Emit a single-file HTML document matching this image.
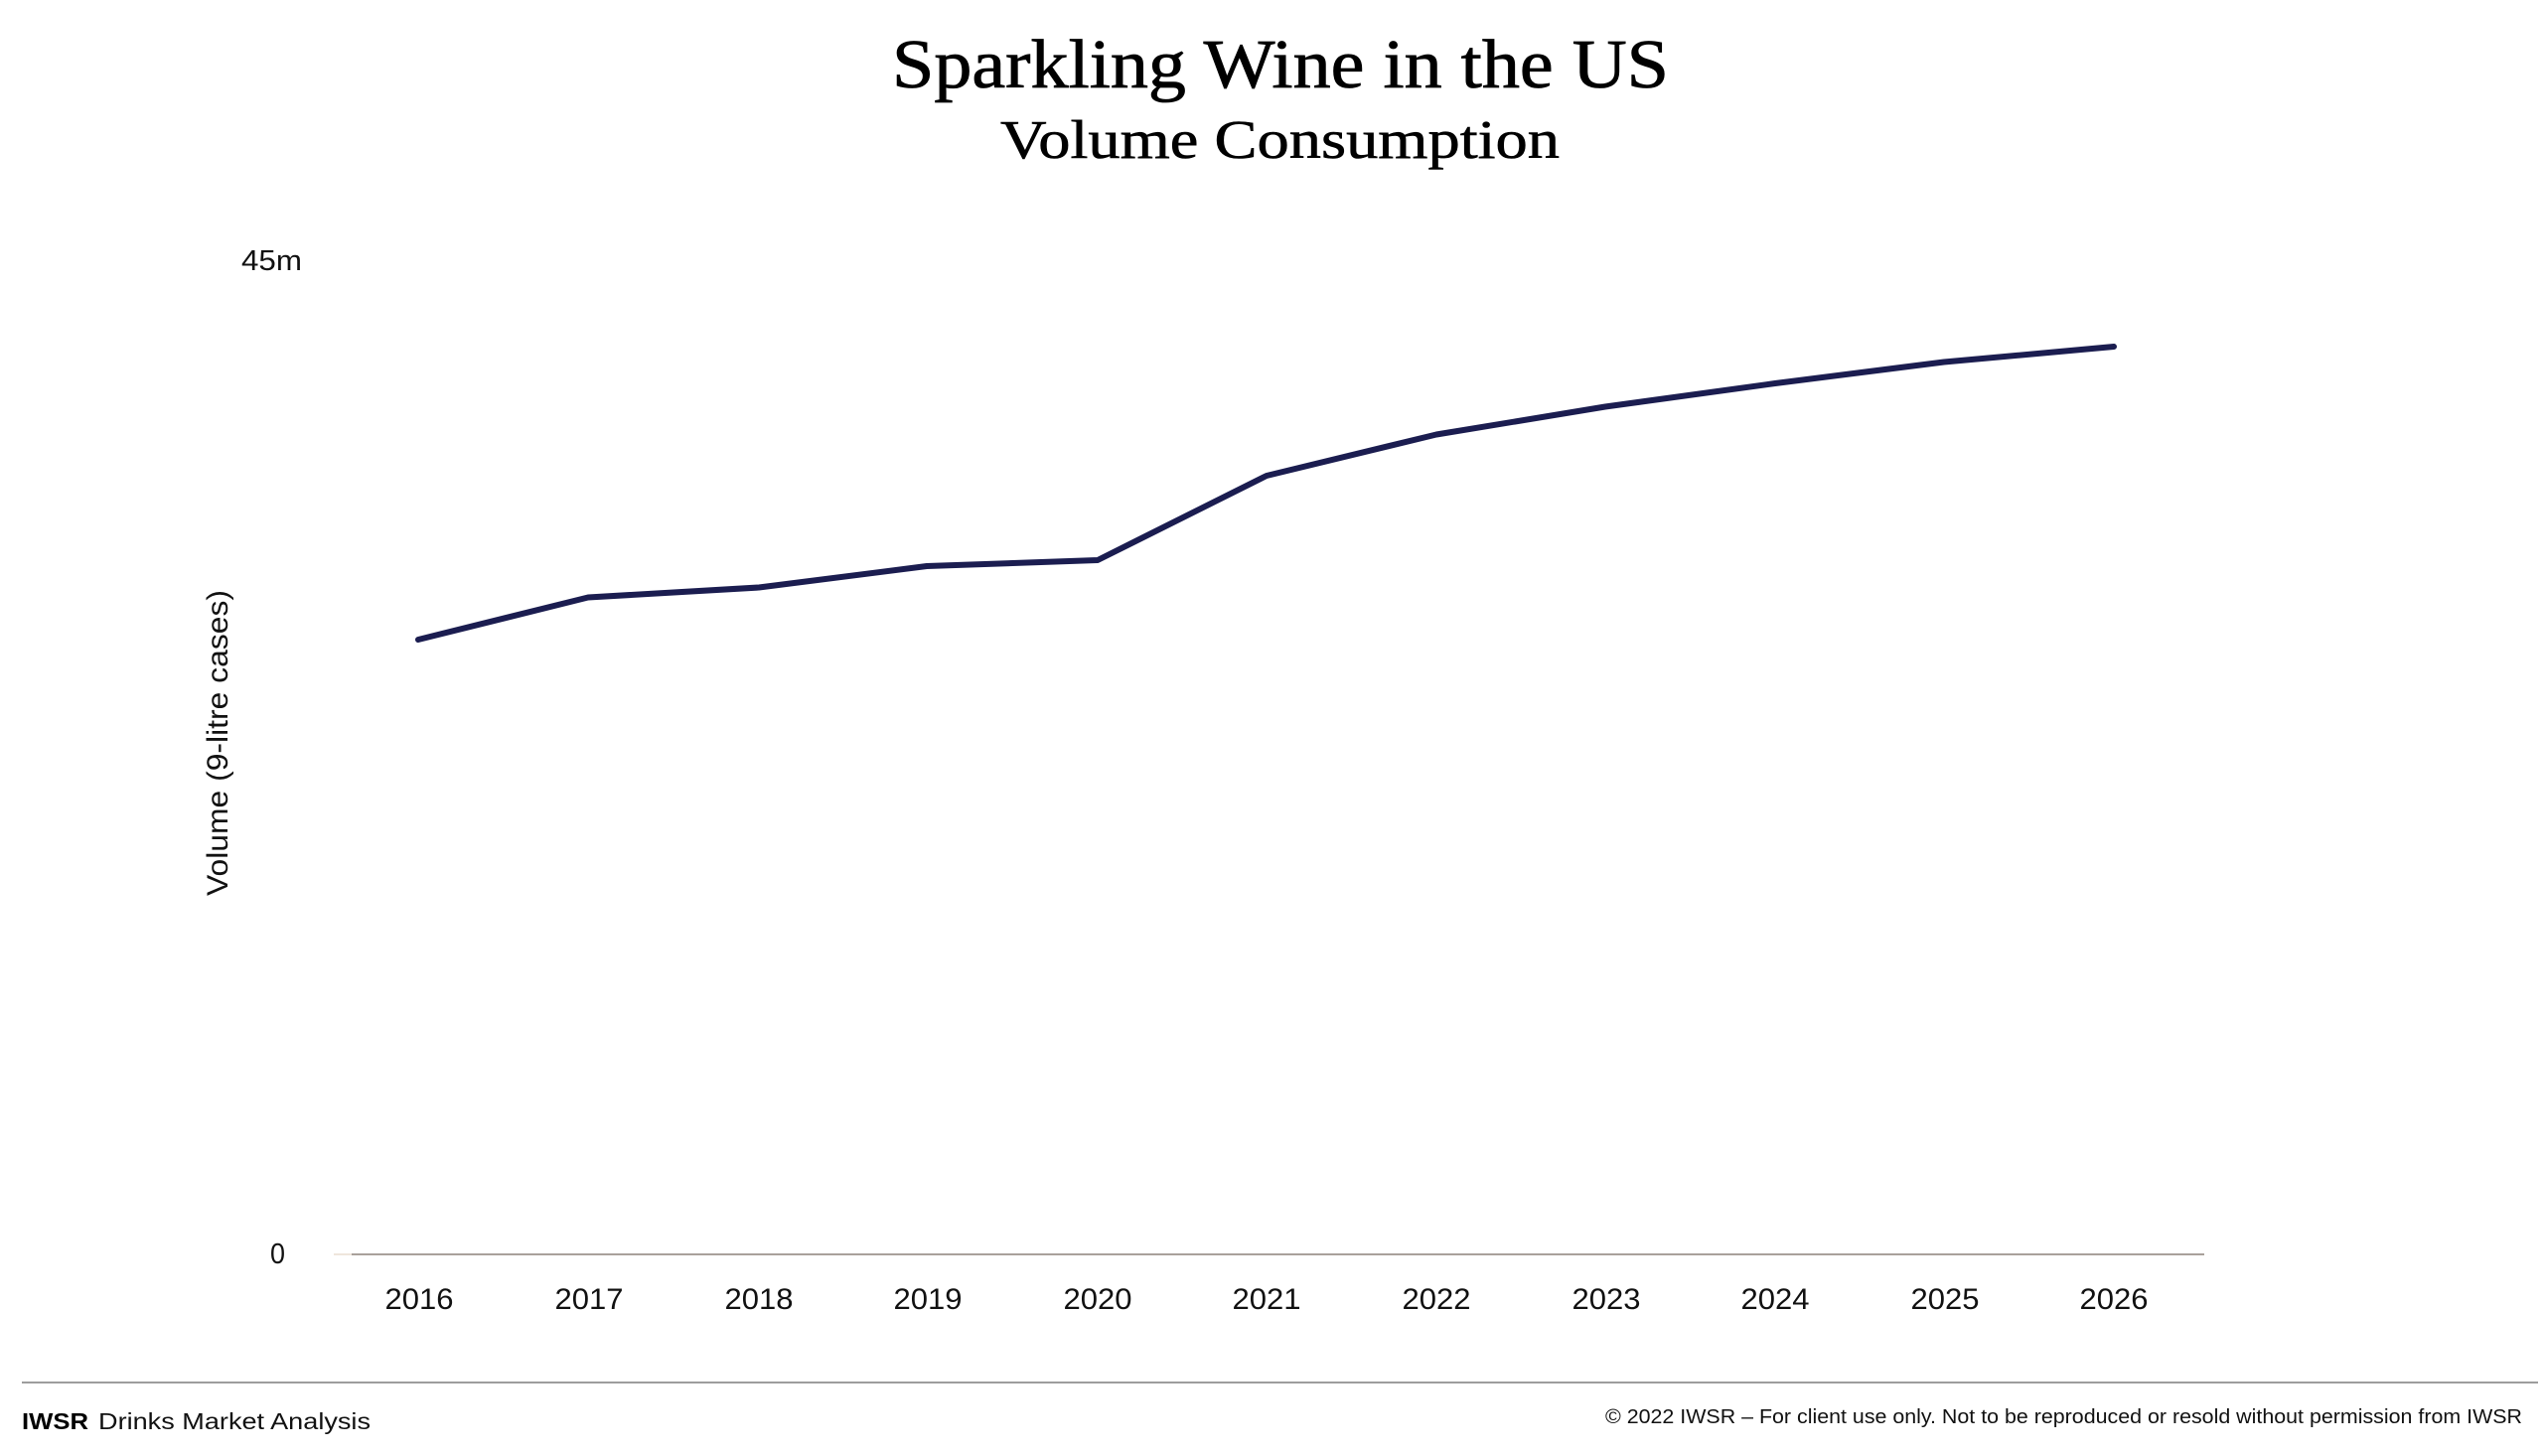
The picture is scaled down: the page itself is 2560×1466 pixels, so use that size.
<!DOCTYPE html>
<html>
<head>
<meta charset="utf-8">
<style>
  html, body { margin:0; padding:0; background:#ffffff; }
  body { width:2560px; height:1466px; overflow:hidden; }
  svg { display:block; }
</style>
</head>
<body>
<svg width="2560" height="1466" viewBox="0 0 2560 1466" xmlns="http://www.w3.org/2000/svg">
  <rect x="0" y="0" width="2560" height="1466" fill="#ffffff"/>

  <!-- Titles -->
  <text x="898" y="88" font-family="'Liberation Serif', serif" font-size="70" fill="#000" stroke="#000" stroke-width="0.8" textLength="782" lengthAdjust="spacingAndGlyphs">Sparkling Wine in the US</text>
  <text x="1007" y="159" font-family="'Liberation Serif', serif" font-size="55" fill="#000" stroke="#000" stroke-width="0.6" textLength="563" lengthAdjust="spacingAndGlyphs">Volume Consumption</text>

  <!-- Y axis tick labels -->
  <text x="243" y="272" font-family="'Liberation Sans', sans-serif" font-size="29" fill="#111" textLength="61" lengthAdjust="spacingAndGlyphs">45m</text>
  <text x="272" y="1272" font-family="'Liberation Sans', sans-serif" font-size="29" fill="#111" textLength="15" lengthAdjust="spacingAndGlyphs">0</text>

  <!-- Y axis title -->
  <text transform="translate(229,748) rotate(-90)" x="0" y="0" text-anchor="middle" font-family="'Liberation Sans', sans-serif" font-size="30" fill="#111" textLength="308" lengthAdjust="spacingAndGlyphs">Volume (9-litre cases)</text>

  <!-- X axis line -->
  <line x1="336" y1="1263" x2="354" y2="1263" stroke="#efe6dc" stroke-width="2"/>
  <line x1="354" y1="1263" x2="2219" y2="1263" stroke="#a9a19b" stroke-width="2"/>

  <!-- X axis labels -->
  <g font-family="'Liberation Sans', sans-serif" font-size="30" fill="#111" text-anchor="middle">
    <text x="422" y="1318" textLength="69" lengthAdjust="spacingAndGlyphs">2016</text>
    <text x="593" y="1318" textLength="69" lengthAdjust="spacingAndGlyphs">2017</text>
    <text x="764" y="1318" textLength="69" lengthAdjust="spacingAndGlyphs">2018</text>
    <text x="934" y="1318" textLength="69" lengthAdjust="spacingAndGlyphs">2019</text>
    <text x="1105" y="1318" textLength="69" lengthAdjust="spacingAndGlyphs">2020</text>
    <text x="1275" y="1318" textLength="69" lengthAdjust="spacingAndGlyphs">2021</text>
    <text x="1446" y="1318" textLength="69" lengthAdjust="spacingAndGlyphs">2022</text>
    <text x="1617" y="1318" textLength="69" lengthAdjust="spacingAndGlyphs">2023</text>
    <text x="1787" y="1318" textLength="69" lengthAdjust="spacingAndGlyphs">2024</text>
    <text x="1958" y="1318" textLength="69" lengthAdjust="spacingAndGlyphs">2025</text>
    <text x="2128" y="1318" textLength="69" lengthAdjust="spacingAndGlyphs">2026</text>
  </g>

  <!-- Data line -->
  <polyline fill="none" stroke="#1b1d50" stroke-width="6" stroke-linecap="round" stroke-linejoin="round"
    points="421,644 592,601.5 764,591.5 933,570 1105,564 1275,479 1446,437.5 1616,409.5 1787,386 1957,364.5 2128,349"/>

  <!-- Footer -->
  <line x1="22" y1="1392" x2="2555" y2="1392" stroke="#7d7d7d" stroke-width="1.6"/>
  <text x="22" y="1439" font-family="'Liberation Sans', sans-serif" font-size="23" font-weight="bold" fill="#000" textLength="67" lengthAdjust="spacingAndGlyphs">IWSR</text>
  <text x="99" y="1439" font-family="'Liberation Sans', sans-serif" font-size="23" fill="#111" textLength="274" lengthAdjust="spacingAndGlyphs">Drinks Market Analysis</text>
  <text x="1616" y="1433" font-family="'Liberation Sans', sans-serif" font-size="20" fill="#111" textLength="923" lengthAdjust="spacingAndGlyphs">© 2022 IWSR – For client use only. Not to be reproduced or resold without permission from IWSR</text>
</svg>
</body>
</html>
